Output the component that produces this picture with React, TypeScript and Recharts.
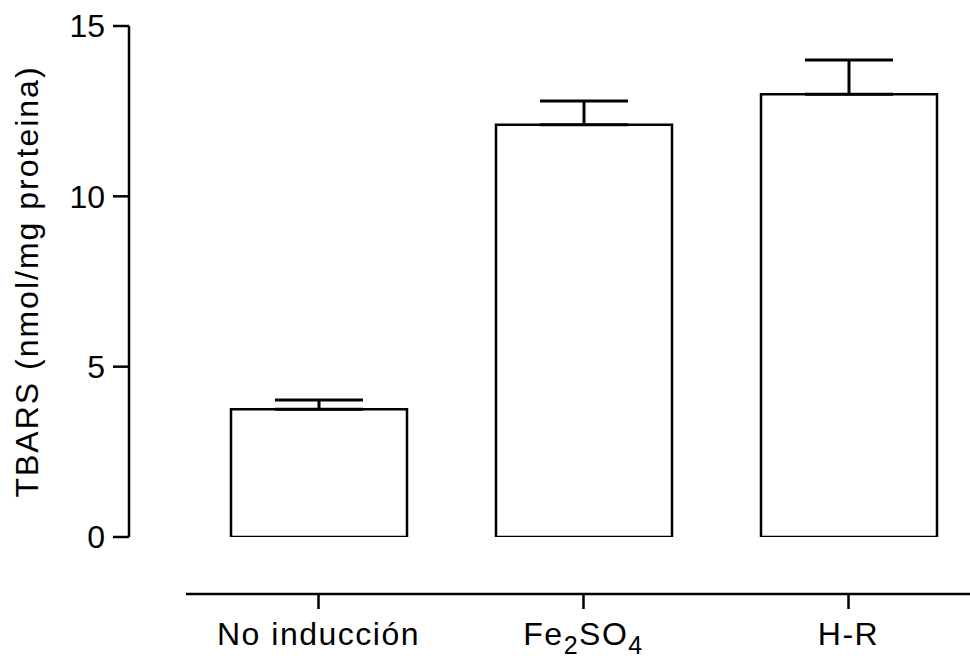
import React from "react";
import { Bar, BarChart, ErrorBar, XAxis, YAxis } from "recharts";

const groups = ["No inducción", "Fe2SO4", "H-R"];
const tbars = [3.75, 12.1, 13.0];
const sem = [0.27, 0.7, 1.0];
const yTicks = [0, 5, 10, 15];

const FONT = "Arial, 'Liberation Sans', Helvetica, sans-serif";
const INK = "#000";

// upper-only error bars: [below, above]
const data = groups.map((group, i) => ({
  group,
  mean: tbars[i],
  err: [0, sem[i]],
}));

function AxisTitle({ viewBox }: any) {
  const cy = viewBox ? viewBox.y + viewBox.height / 2 : 282;
  const cx = 38;
  return (
    <text
      x={cx}
      y={cy}
      transform={`rotate(-90, ${cx}, ${cy})`}
      textAnchor="middle"
      fontSize={32}
      fontFamily={FONT}
      letterSpacing={2}
      fill={INK}
    >
      TBARS (nmol/mg proteina)
    </text>
  );
}

// digits in a group name (Fe2SO4) are drawn as subscripts
function GroupTick({ x, y, payload }: any) {
  const parts = String(payload.value).split(/(\d+)/).filter(Boolean);
  let inSub = false;
  return (
    <text
      x={x}
      y={y + 23}
      textAnchor="middle"
      fontSize={32}
      fontFamily={FONT}
      letterSpacing={1.5}
      fill={INK}
    >
      {parts.map((p, i) => {
        const isNum = /^\d+$/.test(p);
        const shift = isNum && !inSub ? 9 : !isNum && inSub ? -9 : 0;
        inSub = isNum;
        return (
          <tspan key={i} dy={shift} fontSize={isNum ? 25 : 32}>
            {p}
          </tspan>
        );
      })}
    </text>
  );
}

export default function App() {
  return (
    <div
      style={{
        position: "absolute",
        left: 0,
        top: 0,
        width: 970,
        height: 658,
        overflow: "hidden",
        background: "#fff",
      }}
    >
      {/* bars and value axis */}
      <div style={{ position: "absolute", left: 0, top: 0 }}>
        <BarChart
          width={981}
          height={658}
          data={data}
          margin={{ top: 26, right: 0, bottom: 121, left: 0 }}
        >
          <XAxis dataKey="group" hide padding={{ left: 57, right: 0 }} />
          <YAxis
            width={129}
            domain={[0, 15]}
            ticks={yTicks}
            allowDataOverflow
            axisLine={{ stroke: INK, strokeWidth: 2.5 }}
            tickLine={{ stroke: INK, strokeWidth: 2.5 }}
            tickSize={16}
            tickMargin={8}
            tick={{ fill: INK, fontSize: 32, fontFamily: FONT }}
            label={<AxisTitle />}
          />
          <Bar
            dataKey="mean"
            fill="#fff"
            stroke={INK}
            strokeWidth={2.5}
            barSize={176}
            isAnimationActive={false}
          >
            <ErrorBar
              dataKey="err"
              direction="y"
              width={44}
              stroke={INK}
              strokeWidth={3}
              isAnimationActive={false}
            />
          </Bar>
        </BarChart>
      </div>

      {/* detached category axis below the plot */}
      <div style={{ position: "absolute", left: 0, top: 0 }}>
        <BarChart
          width={981}
          height={658}
          data={data}
          margin={{ top: 0, right: 0, bottom: 0, left: 186 }}
        >
          <XAxis
            dataKey="group"
            height={64}
            axisLine={{ stroke: INK, strokeWidth: 2.5 }}
            tickLine={{ stroke: INK, strokeWidth: 2.5 }}
            tickSize={15}
            tickMargin={13}
            tick={<GroupTick />}
            interval={0}
          />
        </BarChart>
      </div>
    </div>
  );
}
